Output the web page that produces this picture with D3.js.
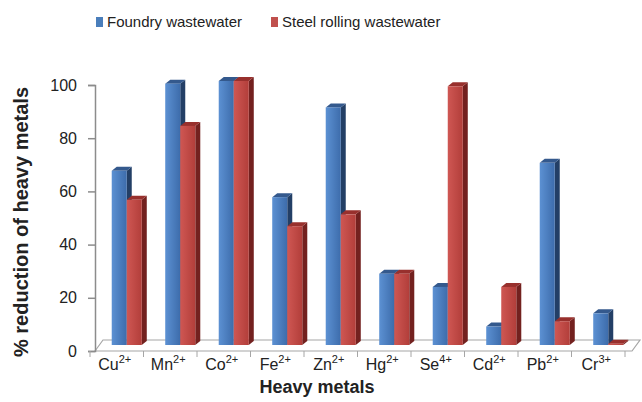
<!DOCTYPE html>
<html>
<head>
<meta charset="utf-8">
<script src="https://cdn.jsdelivr.net/npm/d3@7"></script>
<style>
  body { margin: 0; background: #fff; }
  svg { font-family: Arial, "Liberation Sans", sans-serif; }
</style>
</head>
<body>
<div id="chart"></div>
<script>
// data
const metals = ["Cu", "Mn", "Co", "Fe", "Zn", "Hg", "Se", "Cd", "Pb", "Cr"];
const charges = ["2+", "2+", "2+", "2+", "2+", "2+", "4+", "2+", "2+", "3+"];
const seriesNames = ["Foundry wastewater", "Steel rolling wastewater"];
const foundry = [66, 99, 100, 56, 90, 27, 22, 7, 69, 12];
const steel = [55, 83, 100, 45, 49.5, 27, 98, 22, 9, 0.5];
const yTicks = [0, 20, 40, 60, 80, 100];

const W = 642, H = 402;
const depthX = 5, depthY = 4;

const svg = d3.select("#chart")
    .append("svg")
    .attr("width", W)
    .attr("height", H);

const defs = svg.append("defs");
const faces = [
    { id: "gBlue", a: "#5c91d3", b: "#3d6cab", side: "#233f66", top: "#34598d" },
    { id: "gRed", a: "#cf5753", b: "#b23e3a", side: "#73211f", top: "#98302d" }
];
faces.forEach(f => {
    let g = defs.append("linearGradient").attr("id", f.id)
        .attr("x1", 0).attr("x2", 1).attr("y1", 0).attr("y2", 0);
    g.append("stop").attr("offset", "0%").attr("stop-color", f.a);
    g.append("stop").attr("offset", "100%").attr("stop-color", f.b);
});

// scales
let x = d3.scaleBand()
    .domain(metals)
    .range([100, 635]);

let xInner = d3.scaleBand()
    .domain(seriesNames)
    .range([0, x.bandwidth()])
    .paddingOuter(0.78);

let yAxisScale = d3.scaleLinear().domain([0, 100]).range([351, 85]);
let yBar = d3.scaleLinear().domain([0, 100]).range([345, 81]);

// floor
const floorL = 95, floorR = 632, floorFront = 351, floorBack = 340;
svg.append("path")
    .attr("d", `M${floorL},${floorFront} L${floorL + 8},${floorBack} L${floorR + 8},${floorBack} L${floorR},${floorFront} Z`)
    .attr("fill", "none")
    .attr("stroke", "#a6a6a6")
    .attr("stroke-width", 1.2);

// y axis
let y_axis = d3.axisLeft(yAxisScale)
    .tickValues(yTicks)
    .tickSize(7)
    .tickPadding(11);

svg.append("g")
    .attr("class", "y_axis")
    .attr("transform", "translate(95,0)")
    .call(y_axis)
    .call(g => g.select(".domain").attr("stroke", "#8c8c8c").attr("stroke-width", 1.5))
    .call(g => g.selectAll(".tick line").attr("stroke", "#8c8c8c").attr("stroke-width", 1.5))
    .call(g => g.selectAll(".tick text")
        .attr("font-size", 16)
        .attr("font-family", "Arial, 'Liberation Sans', sans-serif")
        .attr("fill", "#222"));

// bars
const rows = metals.map((m, i) => ({ metal: m, vals: [foundry[i], steel[i]] }));

const groups = svg.selectAll(".grp")
    .data(rows)
    .enter()
    .append("g")
    .attr("class", "grp")
    .attr("transform", d => `translate(${x(d.metal)},0)`);

groups.each(function(d) {
    const g = d3.select(this);
    d.vals.forEach((v, si) => {
        const f = faces[si];
        const bx = xInner(seriesNames[si]);
        const bw = xInner.bandwidth();
        const top = yBar(v);
        const base = yBar(0);
        // side face
        g.append("path")
            .attr("d", `M${bx + bw},${top} L${bx + bw + depthX},${top - depthY} L${bx + bw + depthX},${base - depthY} L${bx + bw},${base} Z`)
            .attr("fill", f.side);
        // top face
        g.append("path")
            .attr("d", `M${bx},${top} L${bx + depthX},${top - depthY} L${bx + bw + depthX},${top - depthY} L${bx + bw},${top} Z`)
            .attr("fill", f.top);
        // front face
        g.append("rect")
            .attr("x", bx)
            .attr("y", top)
            .attr("width", bw)
            .attr("height", base - top)
            .attr("fill", `url(#${f.id})`);
    });
});

// category ticks on front edge of floor
const tickXs = metals.map(m => x(m) - 10).concat([x(metals[metals.length - 1]) + x.step() - 10]);
svg.selectAll(".ctick")
    .data(tickXs)
    .enter()
    .append("line")
    .attr("x1", d => d).attr("x2", d => d)
    .attr("y1", floorFront).attr("y2", floorFront + 6)
    .attr("stroke", "#a6a6a6")
    .attr("stroke-width", 1);

// category labels with superscript charge
const labels = svg.selectAll(".clabel")
    .data(metals)
    .enter()
    .append("text")
    .attr("class", "clabel")
    .attr("x", d => x(d) + x.bandwidth() / 2 - 12)
    .attr("y", 370)
    .attr("text-anchor", "middle")
    .attr("font-size", 16)
    .attr("fill", "#222");

labels.append("tspan").text(d => d);
labels.append("tspan")
    .attr("dy", -7)
    .attr("font-size", 11)
    .text((d, i) => charges[i]);

// axis titles
svg.append("text")
    .text("Heavy metals")
    .attr("x", 317)
    .attr("y", 393)
    .attr("text-anchor", "middle")
    .attr("font-size", 18)
    .attr("font-weight", "bold")
    .attr("fill", "#222");

svg.append("text")
    .text("% reduction of heavy metals")
    .attr("transform", "translate(28,222) rotate(-90)")
    .attr("text-anchor", "middle")
    .attr("font-size", 20)
    .attr("font-weight", "bold")
    .attr("fill", "#222");

// legend
const legendX = [96, 271];
const legend = svg.selectAll(".leg")
    .data(seriesNames)
    .enter()
    .append("g")
    .attr("class", "leg")
    .attr("transform", (d, i) => `translate(${legendX[i]},17)`);

legend.append("rect")
    .attr("width", 7)
    .attr("height", 10)
    .attr("fill", (d, i) => i === 0 ? "#4a7ebb" : "#c0504d");

legend.append("text")
    .text(d => d)
    .attr("x", 11)
    .attr("y", 10)
    .attr("font-size", 15)
    .attr("fill", "#222");
</script>
</body>
</html>
